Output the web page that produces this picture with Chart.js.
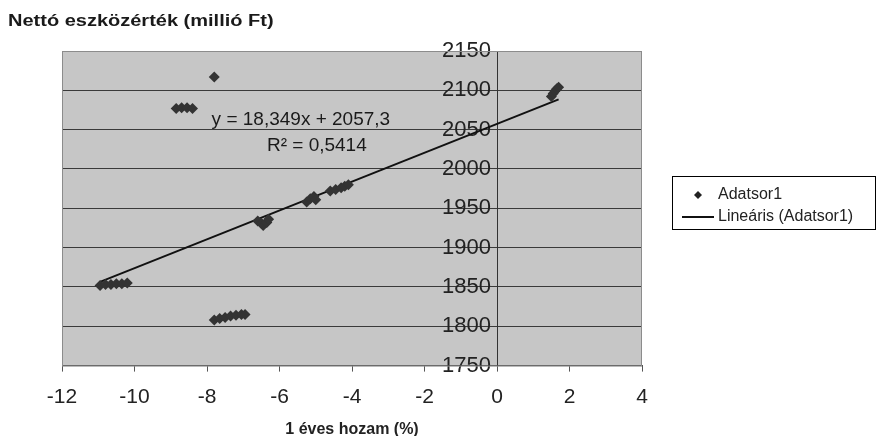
<!DOCTYPE html>
<html>
<head>
<meta charset="utf-8">
<script src="https://cdn.jsdelivr.net/npm/chart.js@4/dist/chart.umd.min.js"></script>
<style>
  html, body { margin: 0; padding: 0; background: #ffffff; }
  #wrap { width: 879px; height: 436px; }
</style>
</head>
<body>
<div id="wrap"><canvas id="hozamChart" width="879" height="436"></canvas></div>
<script>
// 1 éves hozam (%) -> nettó eszközérték (millió Ft)
const hozam = [
  -10.95, -10.8, -10.65, -10.5, -10.35, -10.2,
  -8.85, -8.7, -8.55, -8.4,
  -7.8,
  -7.8, -7.65, -7.5, -7.35, -7.2, -7.05, -6.95,
  -6.6, -6.5, -6.45, -6.35, -6.3,
  -5.25, -5.15, -5.05, -5.0,
  -4.6, -4.45, -4.3, -4.2, -4.1,
  1.5, 1.55, 1.6, 1.65, 1.7
];
const eszkozertek = [
  1852, 1853, 1853, 1854, 1854, 1855,
  2077, 2078, 2078, 2077,
  2117,
  1808, 1810, 1811, 1813, 1814, 1815, 1815,
  1934, 1931, 1928, 1932, 1936,
  1958, 1962, 1965, 1961,
  1972, 1974, 1976, 1978, 1980,
  2092, 2096, 2099, 2102, 2104
];

// trendline as Excel reports it
const meredekseg = 18.349;
const metszet = 2057.3;
const egyenletSzoveg = 'y = 18,349x + 2057,3';
const r2Szoveg = 'R\u00B2 = 0,5414';

const xTicks = [-12, -10, -8, -6, -4, -2, 0, 2, 4];
const yTicks = [1750, 1800, 1850, 1900, 1950, 2000, 2050, 2100, 2150];

const pontok = hozam.map((x, i) => ({ x: x, y: eszkozertek[i] }));
const xMin = Math.min(...hozam);
const xMax = Math.max(...hozam);
const trend = [
  { x: xMin, y: meredekseg * xMin + metszet },
  { x: xMax, y: meredekseg * xMax + metszet }
];

const FONT = "'Liberation Sans', Arial, sans-serif";

// gray plot area like the old Excel charts
const plotBackground = {
  id: 'plotBackground',
  beforeDraw(chart) {
    const { ctx, chartArea: a } = chart;
    ctx.save();
    ctx.fillStyle = '#c6c6c6';
    ctx.fillRect(a.left, a.top, a.right - a.left, a.bottom - a.top);
    ctx.restore();
  },
  afterDatasetsDraw(chart) {
    const { ctx, chartArea: a } = chart;
    ctx.save();
    ctx.strokeStyle = '#8c8c8c';
    ctx.lineWidth = 1;
    ctx.strokeRect(a.left + 0.5, a.top + 0.5, a.right - a.left - 1, a.bottom - a.top);
    ctx.restore();
  }
};

// y axis caption at the top-left + equation label
const extraText = {
  id: 'extraText',
  afterDraw(chart) {
    const { ctx, scales } = chart;
    ctx.save();
    ctx.fillStyle = '#1a1a1a';
    ctx.textBaseline = 'middle';
    ctx.textAlign = 'left';
    ctx.font = 'bold 16px ' + FONT;
    ctx.save();
    ctx.translate(8, 22);
    ctx.scale(1.25, 1);
    ctx.fillText('Nettó eszközérték (millió Ft)', 0, 0);
    ctx.restore();

    ctx.font = '19px ' + FONT;
    ctx.textAlign = 'center';
    ctx.fillText(egyenletSzoveg, scales.x.getPixelForValue(-5.41), scales.y.getPixelForValue(2062));
    ctx.fillText(r2Szoveg, scales.x.getPixelForValue(-4.97), scales.y.getPixelForValue(2029));
    ctx.restore();
  }
};

// legend box on the right
const boxLegend = {
  id: 'boxLegend',
  afterDraw(chart) {
    const { ctx } = chart;
    const ds = chart.data.datasets;
    ctx.save();
    ctx.fillStyle = '#ffffff';
    ctx.fillRect(672, 176, 203, 53);
    ctx.strokeStyle = '#000000';
    ctx.lineWidth = 1;
    ctx.strokeRect(672.5, 176.5, 203, 53);

    // marker
    ctx.fillStyle = '#222';
    ctx.beginPath();
    ctx.moveTo(698, 191);
    ctx.lineTo(702, 195);
    ctx.lineTo(698, 199);
    ctx.lineTo(694, 195);
    ctx.closePath();
    ctx.fill();
    // line
    ctx.strokeStyle = '#111';
    ctx.lineWidth = 2;
    ctx.beginPath();
    ctx.moveTo(682, 217);
    ctx.lineTo(714, 217);
    ctx.stroke();

    ctx.fillStyle = '#222';
    ctx.font = '16px ' + FONT;
    ctx.textAlign = 'left';
    ctx.textBaseline = 'middle';
    ctx.fillText(ds[0].label, 718, 195);
    ctx.fillText(ds[1].label, 718, 217);
    ctx.restore();
  }
};

const ctx = document.getElementById('hozamChart').getContext('2d');

new Chart(ctx, {
  type: 'scatter',
  data: {
    datasets: [{
      label: 'Adatsor1',
      data: pontok,
      pointStyle: 'rectRot',
      pointRadius: 5.5,
      pointHoverRadius: 5.5,
      backgroundColor: '#333333',
      borderWidth: 0
    }, {
      label: 'Lineáris (Adatsor1)',
      type: 'line',
      data: trend,
      showLine: true,
      pointRadius: 0,
      borderColor: '#111111',
      borderWidth: 2,
      fill: false
    }]
  },
  options: {
    responsive: false,
    animation: false,
    layout: {
      padding: { top: 51, left: 62, right: 237, bottom: 0 }
    },
    plugins: {
      legend: { display: false },
      tooltip: { enabled: false },
      title: { display: false }
    },
    scales: {
      x: {
        type: 'linear',
        position: 'bottom',
        min: -12,
        max: 4,
        afterBuildTicks: (s) => { s.ticks = xTicks.map(v => ({ value: v })); },
        grid: {
          drawOnChartArea: false,
          drawTicks: true,
          tickLength: 6,
          color: '#555555'
        },
        border: { display: true, color: '#555555' },
        ticks: {
          color: '#222222',
          padding: 13,
          font: { family: FONT, size: 21 }
        },
        title: {
          display: true,
          text: '1 éves hozam (%)',
          color: '#222222',
          font: { family: FONT, size: 16, weight: 'bold' },
          padding: { top: -3, bottom: -3 }
        }
      },
      y: {
        type: 'linear',
        position: { x: 0 },
        min: 1750,
        max: 2150,
        afterBuildTicks: (s) => { s.ticks = yTicks.map(v => ({ value: v })); },
        grid: {
          drawOnChartArea: true,
          drawTicks: false,
          color: (c) => (c.tick && c.tick.value === 2150) ? '#8c8c8c' : '#3a3a3a'
        },
        border: { display: true, color: '#333333' },
        ticks: {
          color: '#222222',
          font: { family: FONT, size: 22 },
          callback: (v) => v + ' '
        }
      }
    }
  },
  plugins: [plotBackground, extraText, boxLegend]
});
</script>
</body>
</html>
